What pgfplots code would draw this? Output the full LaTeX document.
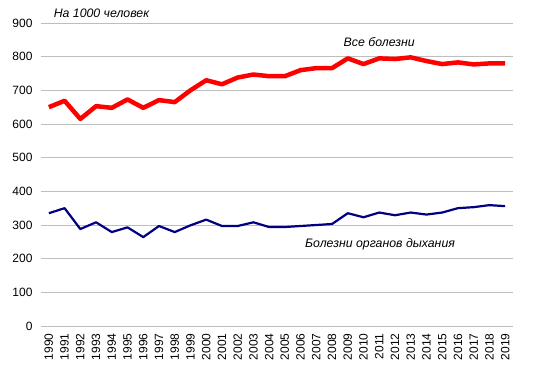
\documentclass[border=0pt]{standalone}
\usepackage{pgfplots}
\pgfplotsset{compat=1.18}
\usepackage{fontspec}
\setmainfont{Liberation Sans}
\definecolor{gridgray}{RGB}{190,190,190}
\definecolor{navyline}{RGB}{0,0,128}
\begin{document}
\begin{tikzpicture}
\useasboundingbox (-41pt,-51pt) rectangle (498pt,326pt);
\begin{axis}[
  scale only axis, width=472pt, height=303pt,
  xmin=1989.5, xmax=2019.5, ymin=0, ymax=900,
  xtick={1990,1991,...,2019}, ytick={0,100,...,900},
  axis line style={draw=none},
  ymajorgrids, grid style={gridgray, line width=0.8pt},
  major tick length=0pt,
  tick label style={font=\fontsize{12}{14}\selectfont},
  /pgf/number format/assume math mode=true,
  /pgf/number format/1000 sep={},
  x tick label style={rotate=90, anchor=east},
  xticklabel shift=4pt, yticklabel shift=5pt,
  clip=false,
]
\addplot[red, line width=4.5pt, line join=round] coordinates {
(1990,650)(1991,669)(1992,615)(1993,653)(1994,648)(1995,673)(1996,648)(1997,671)(1998,665)(1999,700)
(2000,730)(2001,718)(2002,738)(2003,747)(2004,742)(2005,742)(2006,760)(2007,766)(2008,766)(2009,795)
(2010,778)(2011,795)(2012,793)(2013,798)(2014,787)(2015,778)(2016,783)(2017,777)(2018,780)(2019,780)};
\addplot[navyline, line width=2.2pt, line join=round] coordinates {
(1990,335)(1991,350)(1992,288)(1993,308)(1994,279)(1995,293)(1996,264)(1997,297)(1998,279)(1999,299)
(2000,316)(2001,297)(2002,297)(2003,308)(2004,294)(2005,294)(2006,297)(2007,300)(2008,303)(2009,335)
(2010,323)(2011,337)(2012,329)(2013,337)(2014,331)(2015,337)(2016,350)(2017,353)(2018,359)(2019,356)};
\node[anchor=west, inner sep=0pt, font=\fontsize{12.3}{14}\selectfont\itshape] at (axis cs:1990.3,930) {На 1000 человек};
\node[font=\fontsize{12.3}{14}\selectfont\itshape] at (axis cs:2011.0,843) {Все болезни};
\node[font=\fontsize{12.3}{14}\selectfont\itshape] at (axis cs:2011.05,243) {Болезни органов дыхания};
\end{axis}
\end{tikzpicture}
\end{document}
